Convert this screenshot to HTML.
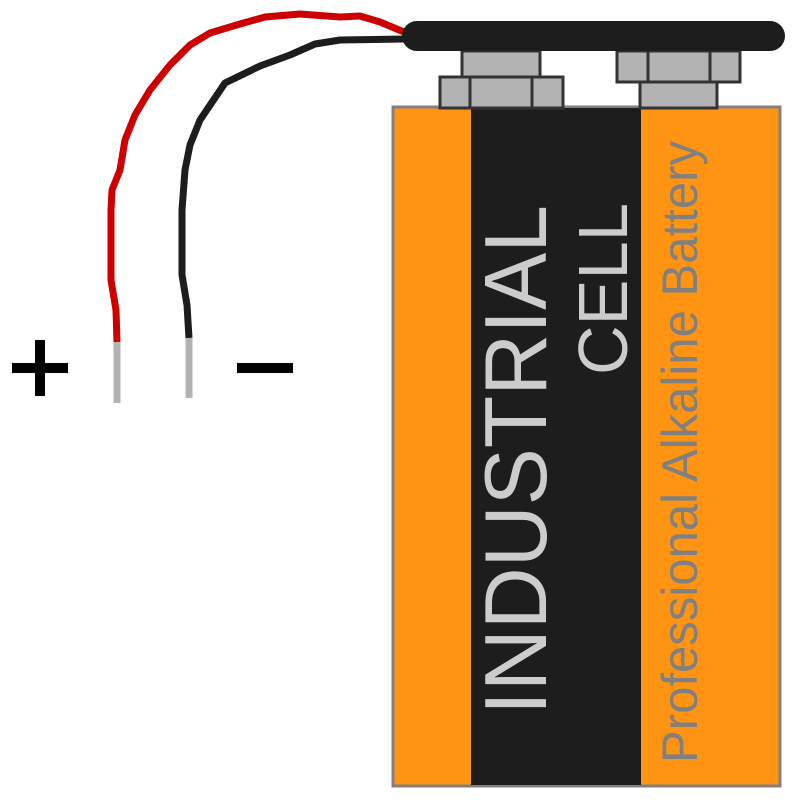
<!DOCTYPE html>
<html><head><style>html,body{margin:0;padding:0;background:#fff;}svg{display:block}</style></head><body>
<svg width="800" height="800" viewBox="0 0 800 800" xmlns="http://www.w3.org/2000/svg">
<rect x="393" y="107" width="387" height="679" fill="#ff9412" stroke="#808080" stroke-width="3"/>
<rect x="471" y="108" width="170" height="677" fill="#1d1d1d"/>
<g fill="#b3b3b3" stroke="#333" stroke-width="3">
<rect x="462" y="51" width="78" height="26"/>
<rect x="440" y="77" width="123" height="31"/>
<line x1="470" y1="77" x2="470" y2="108"/><line x1="532" y1="77" x2="532" y2="108"/>
<rect x="640" y="82" width="77" height="26"/>
<rect x="617" y="51" width="123" height="31"/>
<line x1="648" y1="51" x2="648" y2="82"/><line x1="710" y1="51" x2="710" y2="82"/>
</g>
<path d="M117,342 L116,310 L111,280 L111,210 L112,190 L120,170 L125,140 L135,115 L150,90 L170,65 L190,45 L210,33 L240,24 L265,17 L300,14 L340,17 L360,16 L380,22 L404,32" fill="none" stroke="#cc0000" stroke-width="7" stroke-linejoin="round"/>
<path d="M189,338 L187,305 L182,275 L182,210 L185,170 L190,145 L200,120 L225,83 L260,66 L290,55 L315,44 L340,40 L404,39" fill="none" stroke="#1d1d1d" stroke-width="7" stroke-linejoin="round"/>
<rect x="402" y="21" width="383" height="30" rx="15" fill="#1d1d1d"/>
<line x1="117" y1="342" x2="117" y2="403" stroke="#b3b3b3" stroke-width="7"/>
<line x1="189" y1="338" x2="189" y2="398" stroke="#b3b3b3" stroke-width="7"/>
<rect x="12" y="363" width="56" height="10" fill="#000"/>
<rect x="35" y="340" width="10" height="56" fill="#000"/>
<rect x="237" y="363" width="56" height="10" fill="#000"/>
<g font-family="Liberation Sans, sans-serif">
<text transform="translate(546,715) rotate(-90)" font-size="88" fill="#cccccc" textLength="510" lengthAdjust="spacingAndGlyphs">INDUSTRIAL</text>
<text transform="translate(627,375) rotate(-90)" font-size="70" fill="#cccccc" textLength="172" lengthAdjust="spacingAndGlyphs">CELL</text>
<text transform="translate(697,763) rotate(-90)" font-size="50" fill="#808080" textLength="622" lengthAdjust="spacingAndGlyphs">Professional Alkaline Battery</text>
</g>
</svg>
</body></html>
